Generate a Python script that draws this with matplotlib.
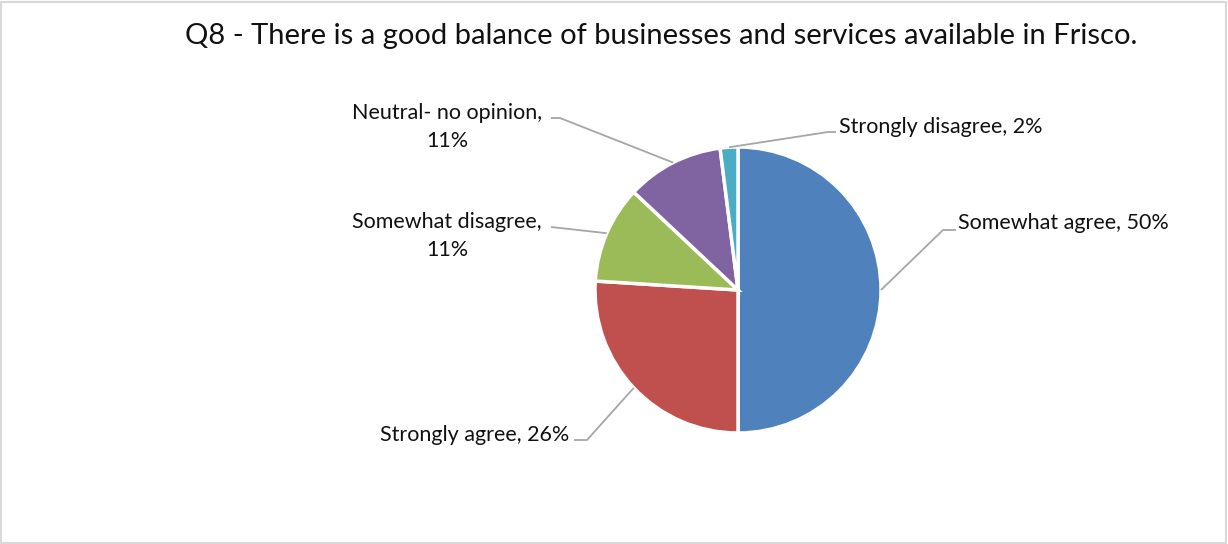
import numpy as np
import matplotlib
matplotlib.use("Agg")
import matplotlib.pyplot as plt
from matplotlib.patches import Rectangle

plt.rcParams["font.family"] = ["Lato", "DejaVu Sans"]

TITLE = "Q8 - There is a good balance of businesses and services available in Frisco."
categories = ["Somewhat agree", "Strongly agree", "Somewhat disagree",
              "Neutral- no opinion", "Strongly disagree"]
shares = [50, 26, 11, 11, 2]
colors = ["#4F81BD", "#C0504D", "#9BBB59", "#8064A2", "#4BACC6"]

W, H = 1228, 544
CX, CY, R = 738, H - 290, 143

# label layout: text anchor (pixels, top-left origin), elbow point, line end, alignment
label_layout = {
    "Somewhat agree":      dict(text=(958, 223), elbow=(943, 230), end=(956, 230), ha="left", wrap=False),
    "Strongly agree":      dict(text=(569, 435), elbow=(587, 440), end=(574, 440), ha="right", wrap=False),
    "Somewhat disagree":   dict(text=(447, 236), elbow=(551, 227), end=(551, 227), ha="center", wrap=True),
    "Neutral- no opinion": dict(text=(447, 127), elbow=(560, 118), end=(551, 118), ha="center", wrap=True),
    "Strongly disagree":   dict(text=(839, 127), elbow=(828, 132), end=(836, 132), ha="left", wrap=False),
}

fig = plt.figure(figsize=(W / 100, H / 100), dpi=100)
ax = fig.add_axes([0, 0, 1, 1])

wedges, _ = ax.pie(shares, colors=colors, startangle=90, counterclock=False,
                   center=(CX, CY), radius=R, frame=True,
                   wedgeprops=dict(edgecolor="white", linewidth=2.5))
ax.set_xlim(0, W)
ax.set_ylim(0, H)
ax.set_aspect("equal")
ax.axis("off")

for w, cat, val in zip(wedges, categories, shares):
    lay = label_layout[cat]
    mid = np.deg2rad((w.theta1 + w.theta2) / 2)
    sx, sy = CX + R * np.cos(mid), CY + R * np.sin(mid)
    ex, ey = lay["elbow"]
    nx, ny = lay["end"]
    ax.plot([sx, ex, nx], [sy, H - ey, H - ny], color="#A6A6A6", lw=1.3,
            solid_capstyle="butt", zorder=1)
    txt = f"{cat},\n{val}%" if lay["wrap"] else f"{cat}, {val}%"
    tx, ty = lay["text"]
    ax.text(tx, H - ty, txt, ha=lay["ha"], va="center", fontsize=15.5,
            color="#111111", linespacing=1.5)

ax.text(661, H - 36, TITLE, ha="center", va="center", fontsize=21, color="#111111")

fig.patches.append(Rectangle((0.001, 0.002), 0.997, 0.995, transform=fig.transFigure,
                             fill=False, edgecolor="#D9D9D9", lw=1.5))

fig.savefig("out.png", dpi=100, facecolor="white")
